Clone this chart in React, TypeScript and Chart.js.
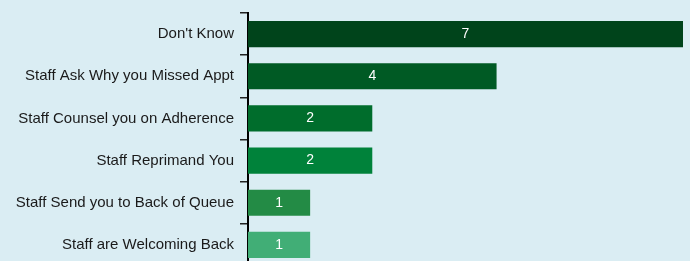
import React, { useEffect, useRef } from "react";
import { Chart, registerables } from "chart.js";

Chart.register(...registerables);

const categories = [
  "Don't Know",
  "Staff Ask Why you Missed Appt",
  "Staff Counsel you on Adherence",
  "Staff Reprimand You",
  "Staff Send you to Back of Queue",
  "Staff are Welcoming Back",
];
const counts = [7, 4, 2, 2, 1, 1];
const barColors = ["#00441b", "#005a24", "#006d2c", "#00823a", "#238b45", "#41ae76"];

const FONT = "'Liberation Sans', Arial, sans-serif";

const valueLabels = {
  id: "valueLabels",
  afterDatasetsDraw(chart: any) {
    const ctx = chart.ctx;
    const meta = chart.getDatasetMeta(0);
    ctx.save();
    ctx.fillStyle = "#ffffff";
    ctx.font = `14px ${FONT}`;
    ctx.textAlign = "center";
    ctx.textBaseline = "middle";
    meta.data.forEach((bar: any, i: number) => {
      const cx = (bar.x + bar.base) / 2;
      ctx.fillText(String(counts[i]), cx, bar.y);
    });
    ctx.restore();
  },
};

export default function App() {
  const ref = useRef<HTMLCanvasElement>(null);
  useEffect(() => {
    if (!ref.current) return;
    const chart = new Chart(ref.current, {
      type: "bar",
      data: {
        labels: categories,
        datasets: [
          {
            data: counts,
            backgroundColor: barColors,
            borderWidth: 0,
            barPercentage: 0.62,
            categoryPercentage: 1,
          },
        ],
      },
      options: {
        indexAxis: "y",
        responsive: false,
        animation: false,
        layout: { padding: { top: 13, right: 7, bottom: 0, left: 0 } },
        plugins: { legend: { display: false }, tooltip: { enabled: false } },
        scales: {
          x: { display: false, min: 0, max: 7 },
          y: {
            afterFit(scale: any) {
              scale.width = 248;
              scale.paddingTop = 0;
              scale.paddingBottom = 0;
            },
            border: { display: true, color: "#000000", width: 2 },
            grid: {
              display: true,
              drawOnChartArea: false,
              drawTicks: true,
              tickLength: 8,
              color: "#222222",
              lineWidth: 1.5,
              offset: true,
            },
            ticks: {
              color: "#1a1a1a",
              padding: 6,
              font: { family: FONT, size: 15 },
            },
          },
        },
      },
      plugins: [valueLabels],
    });
    return () => chart.destroy();
  }, []);
  return (
    <div
      style={{
        position: "fixed",
        left: 0,
        top: 0,
        width: 690,
        height: 261,
        background: "#daedf3",
        overflow: "hidden",
      }}
    >
      <canvas ref={ref} width={690} height={266} style={{ display: "block" }} />
    </div>
  );
}
